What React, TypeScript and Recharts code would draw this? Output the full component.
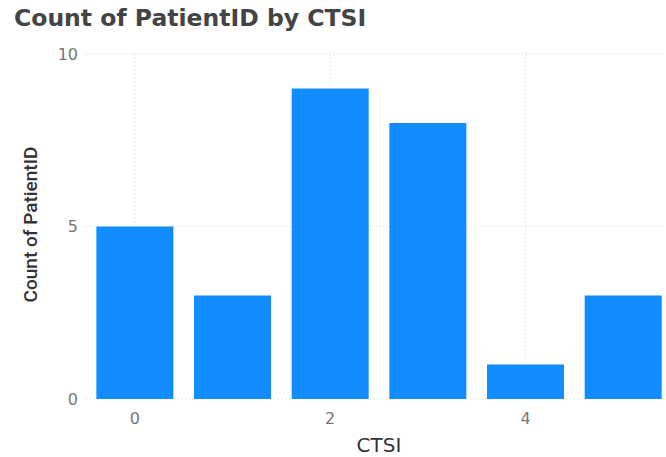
import { BarChart, Bar, XAxis, YAxis, CartesianGrid } from "recharts";

const ctsi = [0, 1, 2, 3, 4, 5];
const patientCounts = [5, 3, 9, 8, 1, 3];
const xTicks = [0, 2, 4];
const yTicks = [0, 5, 10];

const data = ctsi.map((c, i) => ({ ctsi: c, count: patientCounts[i] }));

const tickStyle = { fill: "#777", fontSize: 16, fontFamily: "DejaVu Sans" };

export default function App() {
  return (
    <div
      style={{
        position: "fixed",
        left: 0,
        top: 0,
        width: 666,
        height: 457,
        overflow: "hidden",
        background: "#fff",
      }}
    >
      <div
        style={{
          position: "absolute",
          left: 14,
          top: 4,
          fontFamily: "DejaVu Sans",
          fontSize: 23.5,
          fontWeight: 700,
          color: "#444",
          whiteSpace: "nowrap",
        }}
      >
        Count of PatientID by CTSI
      </div>
      <BarChart
        width={680}
        height={480}
        data={data}
        margin={{ top: 54, right: 8, left: 0, bottom: 21 }}
        barCategoryGap="10.6%"
      >
        <CartesianGrid stroke="#d6d6d6" strokeDasharray="1 3" syncWithTicks />
        <XAxis
          dataKey="ctsi"
          type="number"
          domain={[-0.5, 5.5]}
          ticks={xTicks}
          axisLine={false}
          tickLine={false}
          tickMargin={8}
          height={60}
          tick={tickStyle}
          label={{
            value: "CTSI",
            position: "insideBottom",
            offset: 7,
            style: { fill: "#333", fontSize: 20, fontFamily: "DejaVu Sans" },
          }}
        />
        <YAxis
          domain={[0, 10]}
          ticks={yTicks}
          axisLine={false}
          tickLine={false}
          width={86}
          tick={tickStyle}
          label={{
            value: "Count of PatientID",
            angle: -90,
            position: "insideLeft",
            dx: 25,
            dy: -2,
            style: { textAnchor: "middle", fill: "#333", fontSize: 19, fontFamily: "Roboto", fontWeight: 500 },
          }}
        />
        <Bar dataKey="count" fill="#118DFF" isAnimationActive={false} />
      </BarChart>
    </div>
  );
}
